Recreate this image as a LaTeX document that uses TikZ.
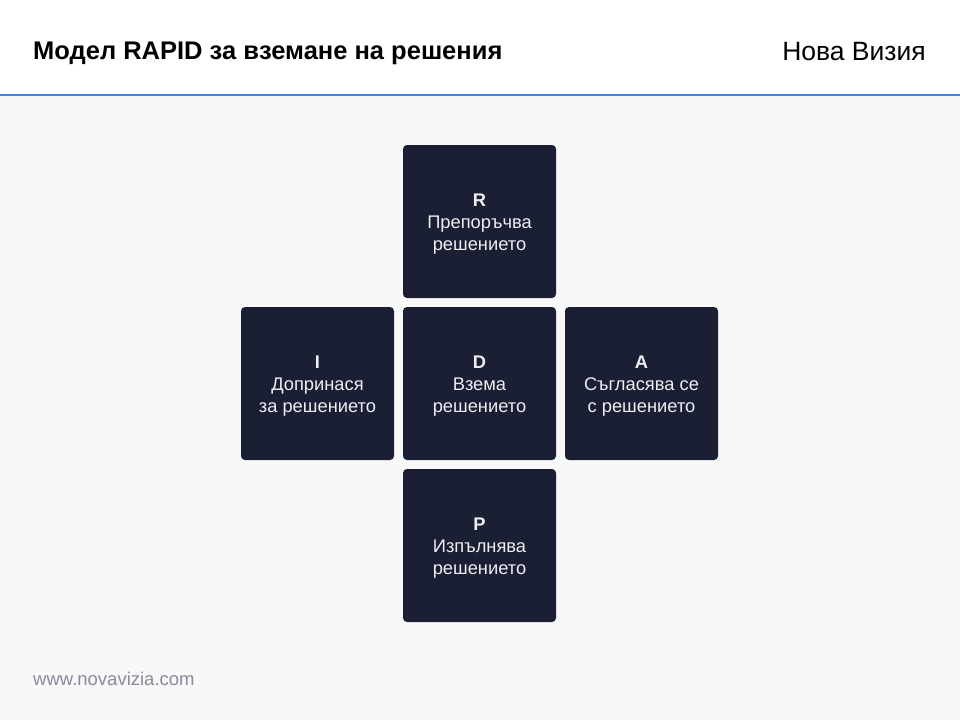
\documentclass[tikz,border=0pt]{standalone}
\usepackage{fontspec}
\setmainfont{Liberation Sans}
\definecolor{bgc}{HTML}{F8F8F9}
\definecolor{boxc}{HTML}{1A1F33}
\definecolor{linec}{HTML}{3B82F6}
\definecolor{footc}{HTML}{8A8A9C}
\definecolor{txtc}{HTML}{EDEDF2}
\begin{document}
\begin{tikzpicture}[x=1pt,y=-1pt,
  cell/.style={fill=boxc,rounded corners=4pt,minimum width=153pt,minimum height=153pt,inner sep=0pt},
  celltext/.style={inner sep=0pt,text=txtc,align=center,font=\fontsize{18.3}{22}\selectfont}]
\useasboundingbox (0,0) rectangle (960,720);
\fill[bgc] (0,0) rectangle (960,720);
\fill[white] (0,0) rectangle (960,94);
\draw[linec,line width=2pt] (0,95) -- (960,95);
\node[anchor=west,inner sep=0pt,font=\fontsize{25.5}{30}\selectfont\bfseries] (title) at (33,53) {Модел RAPID за вземане на решения};
\node[anchor=east,inner sep=0pt,font=\fontsize{26.5}{30}\selectfont] (brand) at (926,52) {Нова Визия};
\node[cell] (R) at (479.5,221.5) {};
\node[cell] (I) at (317.5,383.5) {};
\node[cell] (D) at (479.5,383.5) {};
\node[cell] (A) at (641.5,383.5) {};
\node[cell] (P) at (479.5,545.5) {};
\node[celltext] (Rt) at ([yshift=-2.5pt]R.center) {\textbf{R}\\Препоръчва\\решението};
\node[celltext] (It) at ([yshift=-2.5pt]I.center) {\textbf{I}\\Допринася\\за решението};
\node[celltext] (Dt) at ([yshift=-2.5pt]D.center) {\textbf{D}\\Взема\\решението};
\node[celltext] (At) at ([yshift=-2.5pt]A.center) {\textbf{A}\\Съгласява се\\с решението};
\node[celltext] (Pt) at ([yshift=-2.5pt]P.center) {\textbf{P}\\Изпълнява\\решението};
\node[anchor=west,inner sep=0pt,text=footc,font=\fontsize{18.5}{22}\selectfont] (foot) at (33,679) {www.novavizia.com};
\end{tikzpicture}
\end{document}
